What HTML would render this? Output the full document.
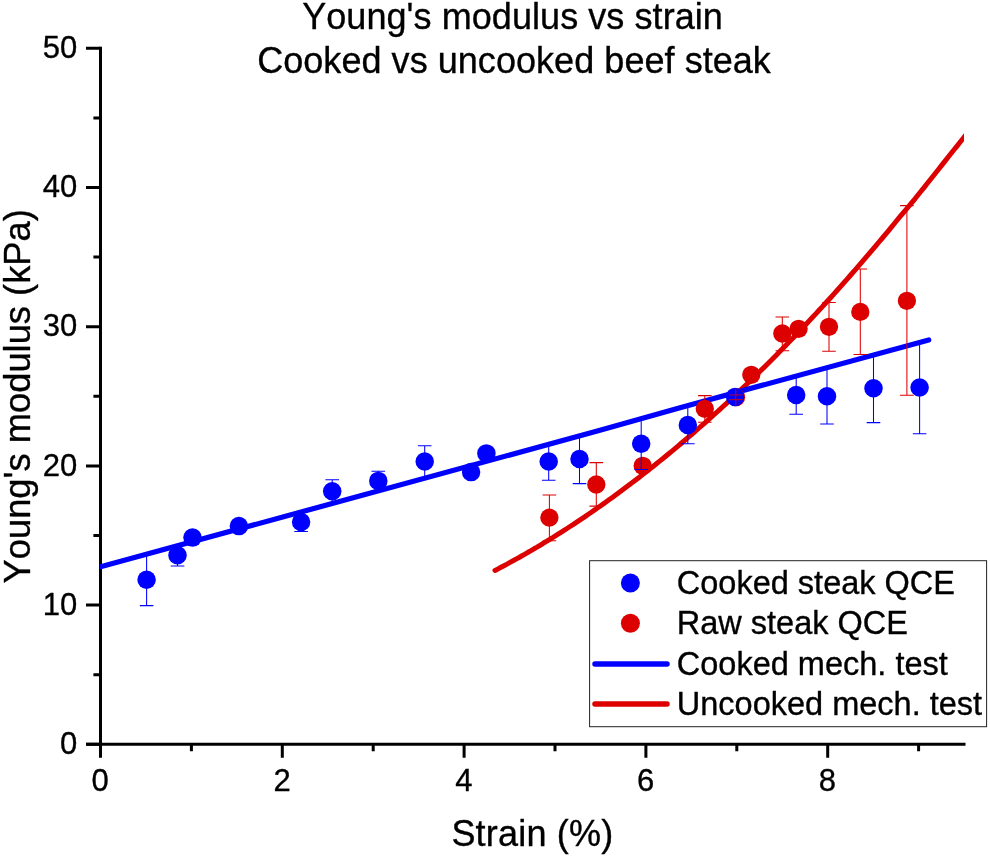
<!DOCTYPE html>
<html lang="en"><head><meta charset="utf-8"><title>Young's modulus vs strain</title>
<style>
html,body{margin:0;padding:0;background:#fff}
body{width:990px;height:856px;overflow:hidden}
svg{display:block}
text{font-family:"Liberation Sans",Arial,Helvetica,sans-serif;fill:#000;stroke:#000;stroke-width:0.35px;stroke-linejoin:round;font-kerning:none;font-variant-ligatures:none}
.t36{font-size:36px}.t30{font-size:31px}.t32{font-size:32.5px}
</style></head><body>
<svg width="990" height="856" viewBox="0 0 990 856">
<rect width="990" height="856" fill="#fff"/>
<defs><clipPath id="plot"><rect x="100" y="40" width="864" height="706"/></clipPath></defs>
<text class="t36" x="512.55" y="28.9" letter-spacing="0.07" text-anchor="middle">Young's modulus vs strain</text>
<text class="t36" x="514.05" y="73.2" letter-spacing="0.05" text-anchor="middle">Cooked vs uncooked beef steak</text>
<text class="t36" x="532.4" y="845.8" letter-spacing="0.2" text-anchor="middle">Strain (%)</text>
<text class="t36" transform="translate(29.9 396.3) rotate(-90) scale(1.009 1.045)" text-anchor="middle">Young's modulus (kPa)</text>
<g stroke="#000" stroke-width="3" fill="none" stroke-linecap="butt">
<path d="M100.5 46.8V745.8"/>
<path d="M86 744.3H965.5"/>
<path d="M86 744.3H100.5M93.4 674.7H100.5M86 605.1H100.5M93.4 535.5H100.5M86 465.9H100.5M93.4 396.3H100.5M86 326.7H100.5M93.4 257.1H100.5M86 187.5H100.5M93.4 117.9H100.5M86 48.3H100.5M100.5 744.3V757.7M191.4 744.3V751.2M282.3 744.3V757.7M373.2 744.3V751.2M464.1 744.3V757.7M555.0 744.3V751.2M645.9 744.3V757.7M736.8 744.3V751.2M827.7 744.3V757.7M918.6 744.3V751.2"/>
</g>
<text class="t30" x="77.3" y="753.9" text-anchor="end">0</text>
<text class="t30" x="77.3" y="614.7" text-anchor="end">10</text>
<text class="t30" x="77.3" y="475.5" text-anchor="end">20</text>
<text class="t30" x="77.3" y="336.3" text-anchor="end">30</text>
<text class="t30" x="77.3" y="197.1" text-anchor="end">40</text>
<text class="t30" x="77.3" y="57.9" text-anchor="end">50</text>
<text class="t30" x="100.2" y="790.6" text-anchor="middle">0</text>
<text class="t30" x="282.0" y="790.6" text-anchor="middle">2</text>
<text class="t30" x="463.8" y="790.6" text-anchor="middle">4</text>
<text class="t30" x="645.6" y="790.6" text-anchor="middle">6</text>
<text class="t30" x="827.4" y="790.6" text-anchor="middle">8</text>
<g clip-path="url(#plot)">
<polyline points="495.0,570.4 498.0,568.9 501.0,567.3 504.0,565.7 507.0,564.1 510.0,562.4 513.0,560.8 516.0,559.1 519.0,557.5 522.0,555.8 525.0,554.1 528.0,552.3 531.0,550.6 534.0,548.8 537.0,547.1 540.0,545.3 543.0,543.5 546.0,541.6 549.0,539.8 552.0,538.0 555.0,536.1 558.0,534.2 561.0,532.3 564.0,530.4 567.0,528.5 570.0,526.5 573.0,524.6 576.0,522.6 579.0,520.6 582.0,518.6 585.0,516.6 588.0,514.5 591.0,512.5 594.0,510.4 597.0,508.3 600.0,506.2 603.0,504.1 606.0,502.0 609.0,499.8 612.0,497.7 615.0,495.5 618.0,493.3 621.0,491.1 624.0,488.8 627.0,486.6 630.0,484.3 633.0,482.1 636.0,479.8 639.0,477.5 642.0,475.1 645.0,472.8 648.0,470.5 651.0,468.1 654.0,465.7 657.0,463.3 660.0,460.9 663.0,458.5 666.0,456.0 669.0,453.5 672.0,451.1 675.0,448.6 678.0,446.1 681.0,443.5 684.0,441.0 687.0,438.4 690.0,435.9 693.0,433.3 696.0,430.7 699.0,428.0 702.0,425.4 705.0,422.8 708.0,420.1 711.0,417.4 714.0,414.7 717.0,412.0 720.0,409.3 723.0,406.5 726.0,403.8 729.0,401.0 732.0,398.2 735.0,395.4 738.0,392.5 741.0,389.7 744.0,386.8 747.0,384.0 750.0,381.1 753.0,378.2 756.0,375.3 759.0,372.3 762.0,369.4 765.0,366.4 768.0,363.4 771.0,360.4 774.0,357.4 777.0,354.4 780.0,351.3 783.0,348.3 786.0,345.2 789.0,342.1 792.0,339.0 795.0,335.9 798.0,332.7 801.0,329.6 804.0,326.4 807.0,323.2 810.0,320.0 813.0,316.8 816.0,313.6 819.0,310.3 822.0,307.1 825.0,303.8 828.0,300.5 831.0,297.2 834.0,293.8 837.0,290.5 840.0,287.1 843.0,283.8 846.0,280.4 849.0,277.0 852.0,273.5 855.0,270.1 858.0,266.7 861.0,263.2 864.0,259.7 867.0,256.2 870.0,252.7 873.0,249.2 876.0,245.6 879.0,242.0 882.0,238.5 885.0,234.9 888.0,231.3 891.0,227.6 894.0,224.0 897.0,220.3 900.0,216.7 903.0,213.1 906.0,209.6 909.0,206.0 912.0,202.4 915.0,198.8 918.0,195.0 921.0,191.3 924.0,187.6 927.0,183.8 930.0,180.0 933.0,176.2 936.0,172.5 939.0,168.7 942.0,164.9 945.0,161.1 948.0,157.3 951.0,153.5 954.0,149.8 957.0,146.1 960.0,142.3 963.0,138.6 966.0,134.8 969.0,130.9" fill="none" stroke="#dd0000" stroke-width="5.0" stroke-linecap="round" stroke-linejoin="round"/>
<polyline points="100.5,566.8 600.0,430.3 640.0,419.0 680.0,407.7 928.7,339.9" stroke="#0000ff" stroke-width="5.2" stroke-linecap="round" stroke-linejoin="round" fill="none"/>
<circle cx="549.4" cy="517.6" r="9.15" fill="#dd0000"/>
<circle cx="596.3" cy="484.5" r="9.15" fill="#dd0000"/>
<circle cx="642.7" cy="465.8" r="9.15" fill="#dd0000"/>
<circle cx="704.8" cy="408.8" r="9.15" fill="#dd0000"/>
<circle cx="736" cy="397.2" r="9.15" fill="#dd0000"/>
<circle cx="751.3" cy="374.8" r="9.15" fill="#dd0000"/>
<circle cx="782.3" cy="333.5" r="9.15" fill="#dd0000"/>
<circle cx="798.6" cy="328.8" r="9.15" fill="#dd0000"/>
<circle cx="829" cy="326.8" r="9.15" fill="#dd0000"/>
<circle cx="860.3" cy="311.9" r="9.15" fill="#dd0000"/>
<circle cx="906.9" cy="300.8" r="9.15" fill="#dd0000"/>
<path d="M146.6 554.2V605.6M139.8 605.6H153.4" stroke="#0000ff" stroke-width="1.05" fill="none"/>
<path d="M177.5 545.8V566.0M170.7 566.0H184.3" stroke="#0000ff" stroke-width="1.05" fill="none"/>
<path d="M301.1 512.0V531.5M294.3 531.5H307.9" stroke="#0000ff" stroke-width="1.05" fill="none"/>
<path d="M332.2 503.5V479.7M325.4 479.7H339.0" stroke="#0000ff" stroke-width="1.05" fill="none"/>
<path d="M378.3 490.9V471.2M371.5 471.2H385.1" stroke="#0000ff" stroke-width="1.05" fill="none"/>
<path d="M424.7 478.2V445.7M417.9 445.7H431.5" stroke="#0000ff" stroke-width="1.05" fill="none"/>
<path d="M548.7 444.4V480.3M541.9 480.3H555.5" stroke="#0000ff" stroke-width="1.05" fill="none"/>
<path d="M579.5 435.9V483.6M572.7 483.6H586.3" stroke="#0000ff" stroke-width="1.05" fill="none"/>
<path d="M641.2 419.1V469.4M634.4 469.4H648.0" stroke="#0000ff" stroke-width="1.05" fill="none"/>
<path d="M687.8 406.3V443.7M681.0 443.7H694.6" stroke="#0000ff" stroke-width="1.05" fill="none"/>
<path d="M796.2 376.7V414.2M789.4 414.2H803.0" stroke="#0000ff" stroke-width="1.05" fill="none"/>
<path d="M827.0 368.3V423.9M820.2 423.9H833.8" stroke="#0000ff" stroke-width="1.05" fill="none"/>
<path d="M873.5 355.6V422.6M866.7 422.6H880.3" stroke="#0000ff" stroke-width="1.05" fill="none"/>
<path d="M919.6 343.0V433.7M912.8 433.7H926.4" stroke="#0000ff" stroke-width="1.05" fill="none"/>
<circle cx="146.6" cy="579.8" r="9.25" fill="#0000ff"/>
<circle cx="177.5" cy="555.3" r="9.25" fill="#0000ff"/>
<circle cx="192.5" cy="537.6" r="9.25" fill="#0000ff"/>
<circle cx="238.9" cy="526.1" r="9.25" fill="#0000ff"/>
<circle cx="301.1" cy="522" r="9.25" fill="#0000ff"/>
<circle cx="332.2" cy="491.2" r="9.25" fill="#0000ff"/>
<circle cx="378.3" cy="480.9" r="9.25" fill="#0000ff"/>
<circle cx="424.7" cy="461.5" r="9.25" fill="#0000ff"/>
<circle cx="471.1" cy="472.1" r="9.25" fill="#0000ff"/>
<circle cx="486.4" cy="453.4" r="9.25" fill="#0000ff"/>
<circle cx="548.7" cy="461.5" r="9.25" fill="#0000ff"/>
<circle cx="579.5" cy="459" r="9.25" fill="#0000ff"/>
<circle cx="641.2" cy="443.7" r="9.25" fill="#0000ff"/>
<circle cx="687.8" cy="425" r="9.25" fill="#0000ff"/>
<circle cx="735.1" cy="396.9" r="9.25" fill="#0000ff"/>
<circle cx="796.2" cy="395" r="9.25" fill="#0000ff"/>
<circle cx="827" cy="396.3" r="9.25" fill="#0000ff"/>
<circle cx="873.5" cy="388.2" r="9.25" fill="#0000ff"/>
<circle cx="919.6" cy="387.5" r="9.25" fill="#0000ff"/>
<path d="M549.4 495.0V540.8M542.6 495.0H556.2M542.6 540.8H556.2" stroke="#dd0000" stroke-width="1.05" fill="none"/>
<path d="M596.3 462.6V506.1M589.5 462.6H603.1M589.5 506.1H603.1" stroke="#dd0000" stroke-width="1.05" fill="none"/>
<path d="M704.8 395.6V422.2M698.0 395.6H711.6M698.0 422.2H711.6" stroke="#dd0000" stroke-width="1.05" fill="none"/>
<path d="M782.3 316.9V350.7M775.5 316.9H789.1M775.5 350.7H789.1" stroke="#dd0000" stroke-width="1.05" fill="none"/>
<path d="M829.0 302.5V351.3M822.2 302.5H835.8M822.2 351.3H835.8" stroke="#dd0000" stroke-width="1.05" fill="none"/>
<path d="M860.3 269.0V354.5M853.5 269.0H867.1M853.5 354.5H867.1" stroke="#dd0000" stroke-width="1.05" fill="none"/>
<path d="M906.9 205.6V395.3M900.1 205.6H913.7M900.1 395.3H913.7" stroke="#dd0000" stroke-width="1.05" fill="none"/>
<path d="M735.8 388.7V405.6M729 394.9H742.6M729 399.6H742.6" stroke="#b00030" stroke-width="1.05" fill="none"/>
</g>
<rect x="589.6" y="560.7" width="397" height="166" fill="#fff" stroke="#222" stroke-width="1"/>
<circle cx="630.4" cy="583" r="9.5" fill="#0000ff"/>
<circle cx="630.4" cy="623.3" r="9.5" fill="#dd0000"/>
<path d="M595 664.1H667" stroke="#0000ff" stroke-width="5.5" stroke-linecap="round"/>
<path d="M595 704.1H667" stroke="#dd0000" stroke-width="5.5" stroke-linecap="round"/>
<text class="t32" x="676.8" y="593.8">Cooked steak QCE</text>
<text class="t32" x="676.8" y="634.2">Raw steak QCE</text>
<text class="t32" x="676.8" y="674.7">Cooked mech. test</text>
<text class="t32" x="676.8" y="715.1">Uncooked mech. test</text>
</svg></body></html>
